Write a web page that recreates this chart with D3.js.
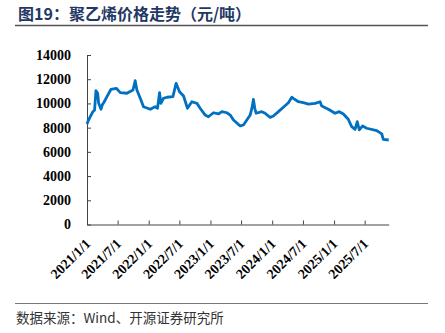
<!DOCTYPE html>
<html><head><meta charset="utf-8">
<script src="https://cdn.jsdelivr.net/npm/d3@7"></script>
<style>
body{margin:0;background:#fff;}
svg{display:block;}
</style></head>
<body>
<svg id="c" width="445" height="333"></svg>
<script>
const titleText = "图19：聚乙烯价格走势（元/吨）";
const sourceText = "数据来源：Wind、开源证券研究所";
const yTicks = [0,2000,4000,6000,8000,10000,12000,14000];
const xTickLabels = ["2021/1/1","2021/7/1","2022/1/1","2022/7/1","2023/1/1","2023/7/1","2024/1/1","2024/7/1","2025/1/1","2025/7/1"];
const dates = ["2021-01-01","2021-01-10","2021-02-05","2021-02-15","2021-02-23","2021-03-05","2021-03-11","2021-03-25","2021-04-01","2021-04-13","2021-04-29","2021-05-23","2021-06-23","2021-07-17","2021-08-25","2021-09-30","2021-10-13","2021-10-23","2021-11-12","2021-12-01",
"2022-01-10","2022-02-08","2022-02-22","2022-03-06","2022-03-14","2022-03-29","2022-04-19","2022-05-24","2022-06-12","2022-07-02","2022-07-26","2022-08-18","2022-09-13","2022-10-13","2022-11-01","2022-12-01","2022-12-20",
"2023-01-19","2023-02-17","2023-03-10","2023-04-08","2023-04-28","2023-05-17","2023-06-26","2023-07-15","2023-08-24","2023-09-05","2023-09-12","2023-09-20","2023-09-28","2023-11-01","2023-11-20","2023-12-20",
"2024-01-08","2024-02-07","2024-03-07","2024-04-06","2024-04-26","2024-05-05","2024-06-04","2024-07-03","2024-08-02","2024-09-11","2024-10-10","2024-10-20","2024-11-28",
"2025-01-07","2025-02-01","2025-02-25","2025-03-26","2025-04-15","2025-05-05","2025-05-18","2025-05-30","2025-06-19","2025-07-13","2025-09-10","2025-10-10","2025-10-19","2025-11-20"];
const prices = [8300,8630,9320,9460,11050,10840,10010,9520,9870,10140,10560,11170,11250,10890,10840,11110,11880,11110,10420,9730,
9520,9730,9600,10890,10010,10420,10510,10560,11660,10970,10610,9600,10140,10010,9600,9040,8900,
9230,9130,9320,9230,9040,8630,8140,8220,9040,9730,10340,9600,9190,9320,9190,8850,
8960,9320,9680,10060,10510,10420,10140,10060,9950,10010,10140,9790,9520,
9190,9320,9130,8690,8080,7860,8490,7810,8140,7950,7750,7480,7040,6980];

const svg = d3.select("#c");
const parse = d3.timeParse("%Y-%m-%d");
const parseTick = d3.timeParse("%Y/%m/%d");
const data = dates.map((d,i)=>({date:parse(d), v:prices[i]}));

const L=87, R=388.7, T=55, B=224.5;
const x = d3.scaleTime().domain([parse("2021-01-01"), parse("2025-11-20")]).range([L,R]);
const y = d3.scaleLinear().domain([0,14000]).range([B,T]);

// title
svg.append("text").attr("x",18).attr("y",20)
  .attr("font-family","'Noto Sans CJK SC', 'Liberation Serif', serif").attr("font-weight","bold")
  .attr("font-size",16).attr("fill","#1F3864").text(titleText);
svg.append("line").attr("x1",15).attr("x2",428).attr("y1",25.5).attr("y2",25.5)
  .attr("stroke","#555").attr("stroke-width",1.5);
svg.append("line").attr("x1",15).attr("x2",428).attr("y1",303.5).attr("y2",303.5)
  .attr("stroke","#777").attr("stroke-width",1.2);
svg.append("text").attr("x",16).attr("y",323)
  .attr("font-family","'Noto Sans CJK SC', 'Liberation Serif', serif")
  .attr("font-size",13.5).attr("fill","#333").text(sourceText);

// y axis
const ya = svg.append("g").attr("transform",`translate(${L},0)`)
  .call(d3.axisLeft(y).tickValues(yTicks).tickFormat(d3.format("d")).tickSizeInner(-4).tickSizeOuter(0).tickPadding(16));
ya.selectAll("text").attr("font-family","'Liberation Serif', serif").attr("font-weight","bold").attr("font-size",14).attr("fill","#000");
ya.selectAll("line,path").attr("stroke","#444");

// x axis
const xa = svg.append("g").attr("transform",`translate(0,${B})`)
  .call(d3.axisBottom(x).tickValues(xTickLabels.map(s=>parseTick(s))).tickFormat(d3.timeFormat("%Y/%-m/%-d")).tickSizeInner(-4).tickSizeOuter(0));
xa.selectAll("line,path").attr("stroke","#444");
xa.selectAll("text").attr("font-family","'Liberation Serif', serif").attr("font-weight","bold").attr("font-size",14).attr("fill","#000")
  .attr("text-anchor","end").attr("dy",null).attr("y",null)
  .attr("transform","translate(4,20) rotate(-45)");

// line
svg.append("path").datum(data)
  .attr("fill","none").attr("stroke","#0070C0").attr("stroke-width",2.8).attr("stroke-linejoin","round")
  .attr("d", d3.line().x(d=>x(d.date)).y(d=>y(d.v)));
</script>
</body></html>
